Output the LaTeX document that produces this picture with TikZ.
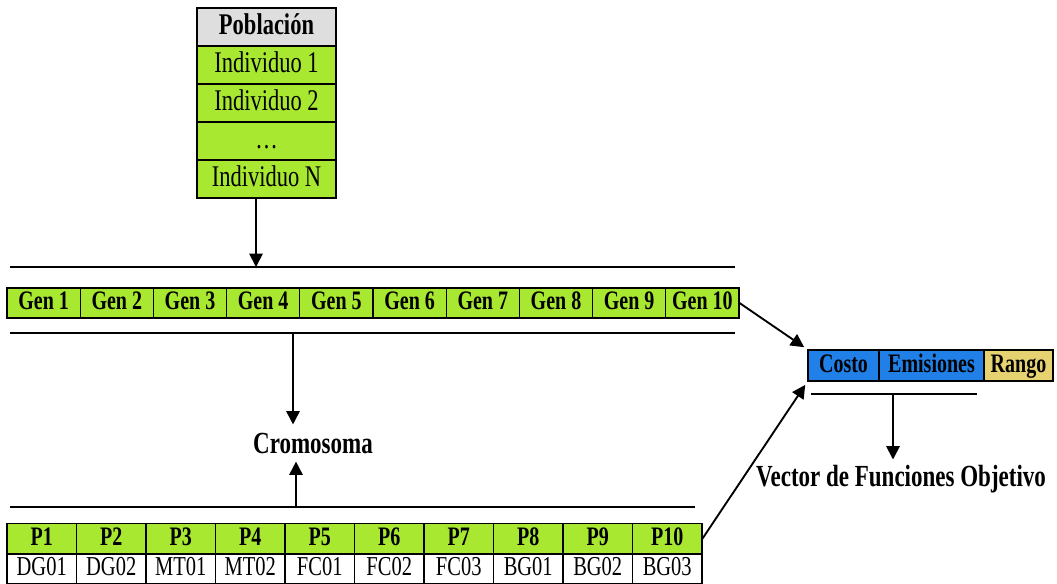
\documentclass[tikz,border=0pt]{standalone}
\usepackage{fontspec}
\setmainfont{Liberation Serif}[FakeStretch=0.75]
\usepackage{tikz}
\usetikzlibrary{arrows.meta,positioning}
\definecolor{verdegen}{RGB}{168,232,48}
\definecolor{azulobj}{RGB}{32,128,232}
\definecolor{amarilloobj}{RGB}{230,210,112}
\definecolor{grisencab}{RGB}{222,222,222}

\begin{document}
\begin{tikzpicture}[x=0.75pt,y=-0.75pt,
    celda/.style={draw,line width=0.8pt,inner sep=0pt,text height=13.5pt,text depth=3.5pt},
    pobcelda/.style={celda,fill=verdegen,minimum width=104.25pt,minimum height=28.5pt,text height=15pt,text depth=4pt,font=\fontsize{22.5}{24}\selectfont},
    gencelda/.style={celda,fill=verdegen,minimum width=54.9pt,minimum height=22.5pt,font=\fontsize{20}{22}\selectfont\bfseries},
    pcelda/.style={celda,minimum width=52.125pt,minimum height=23pt,font=\fontsize{20.5}{22}\selectfont},
    objcelda/.style={celda,minimum height=23.25pt,font=\fontsize{20}{22}\selectfont\bfseries},
    etiqueta/.style={font=\fontsize{23}{25}\selectfont\bfseries},
    separador/.style={line width=2pt},
    flecha/.style={line width=1.4pt,-{Triangle[length=10pt,width=10pt]}}]
    \useasboundingbox (0,0) rectangle (1057,583);

    % poblacion
    \node[pobcelda,fill=grisencab,font=\fontsize{22.5}{24}\selectfont\bfseries] (pob) at (266.5,27) {Población};
    \node[pobcelda] (ind1) at (266.5,65) {Individuo 1};
    \node[pobcelda] (ind2) at (266.5,103) {Individuo 2};
    \node[pobcelda] (puntos) at (266.5,141) {\dots};
    \node[pobcelda] (indN) at (266.5,179) {Individuo N};

    % genes
    \foreach \i in {1,...,10} {
        \node[gencelda] (g\i) at ({7+73.2*(\i-0.5)},303) {Gen \i};
    }

    % separadores
    \coordinate (la1) at (10,267);
    \coordinate (la2) at (735,267);
    \coordinate (lb1) at (10,333);
    \coordinate (lb2) at (735,333);
    \coordinate (lc1) at (10,507);
    \coordinate (lc2) at (695,507);
    \coordinate (ld1) at (811,394);
    \coordinate (ld2) at (977,394);
    \draw[separador] (la1) -- (la2);
    \draw[separador] (lb1) -- (lb2);
    \draw[separador] (lc1) -- (lc2);
    \draw[separador] (ld1) -- (ld2);
    \coordinate (ba) at (256,267);
    \coordinate (bb) at (293,333);
    \coordinate (bc) at (296,507);
    \coordinate (bd) at (893,394);

    \node[etiqueta,inner sep=6pt] (cromo) at (313,443) {Cromosoma};

    % parametros
    \foreach \i/\c in {1/DG01,2/DG02,3/MT01,4/MT02,5/FC01,6/FC02,7/FC03,8/BG01,9/BG02,10/BG03} {
        \node[pcelda,fill=verdegen,font=\fontsize{20}{22}\selectfont\bfseries] (p\i) at ({7+69.5*(\i-0.5)},538.5) {P\i};
        \node[pcelda,minimum height=22.5pt] (d\i) at ({7+69.5*(\i-0.5)},569) {\c};
    }

    % funciones objetivo
    \node[objcelda,fill=azulobj,minimum width=53.25pt] (costo) at (843.5,365.5) {Costo};
    \node[objcelda,fill=azulobj,minimum width=78.75pt] (emis) at (931.5,365.5) {Emisiones};
    \node[objcelda,fill=amarilloobj,minimum width=51.75pt] (rango) at (1018.5,365.5) {Rango};
    \node[etiqueta,inner sep=4pt] (vector) at (901,479) {Vector de Funciones Objetivo};

    \path[flecha]
    (indN.south -| ba) edge (ba)
    (bb) edge (cromo.north -| bb)
    (bc) edge (cromo.south -| bc)
    (bd) edge (vector.north -| bd)
    (g10.east) edge [shorten >=3pt] (costo.north west)
    (p10.east) edge [shorten >=3pt] (costo.south west)
    ;
\end{tikzpicture}
\end{document}
